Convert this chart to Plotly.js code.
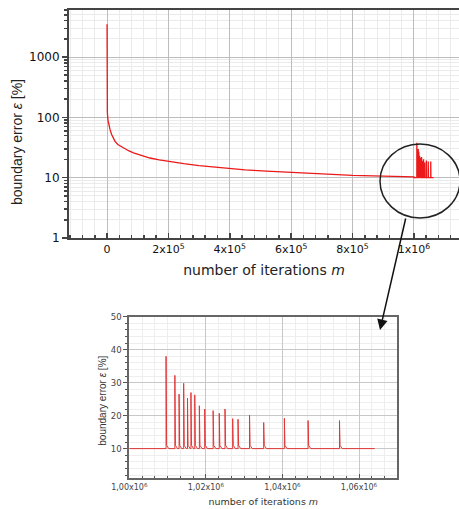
<!DOCTYPE html>
<html><head><meta charset="utf-8">
<script src="https://cdn.plot.ly/plotly-3.0.1.min.js"></script>
<style>html,body{margin:0;padding:0;background:#fff}#chart{width:459px;height:509px}</style>
</head><body><div id="chart"></div>
<script>
// Main convergence curve (top chart)
var mainX = [0, 0, 300, 1000, 3000, 6000, 10000, 15000, 20000, 26000, 35000, 53000, 70000, 86000, 110000, 140000, 170000, 200000, 250000, 300000, 370000, 450000, 520000, 600000, 700000, 800000, 900000, 1000000];
var mainY = [3500, 600, 200, 120, 90, 72, 62, 52, 45, 40, 35.5, 31, 28, 25.7, 23.3, 21.2, 19.8, 18.6, 17.1, 15.9, 14.6, 13.5, 12.8, 12.2, 11.5, 10.9, 10.6, 10.3];
// Spikes after 1e6 iterations (inset detail)
var spikeX = [1009600, 1011900, 1013000, 1014200, 1015200, 1016100, 1017100, 1018300, 1019700, 1021900, 1023500, 1025000, 1027000, 1028400, 1031400, 1035100, 1040500, 1046700, 1054900];
var spikePeak = [38, 32.2, 26.5, 29.8, 25.3, 27, 26.3, 23, 22, 21.5, 20.7, 22, 19.1, 18.9, 20.2, 17.9, 19.2, 18.5, 18.5];
var baseLevel = 10;
var tailStartX = 1000000, tailEndX = 1064100;
// tick labels
var topXTicks = [0, 200000, 400000, 600000, 800000, 1000000];
var topXText = ['0', '2x10<sup>5</sup>', '4x10<sup>5</sup>', '6x10<sup>5</sup>', '8x10<sup>5</sup>', '1x10<sup>6</sup>'];
var topYTicks = [1, 10, 100, 1000];
var topYText = ['1', '10', '100', '1000'];
var inXTicks = [1000000, 1020000, 1040000, 1060000];
var inXText = ['1,00x10<sup>6</sup>', '1,02x10<sup>6</sup>', '1,04x10<sup>6</sup>', '1,06x10<sup>6</sup>'];
var inYTicks = [10, 20, 30, 40, 50];

var sx = [tailStartX], sy = [baseLevel];
for (var i = 0; i < spikeX.length; i++) {
  sx.push(spikeX[i], spikeX[i], spikeX[i] + 150, spikeX[i] + 700);
  sy.push(baseLevel, spikePeak[i], baseLevel + 1, baseLevel);
}
sx.push(tailEndX); sy.push(baseLevel);

var W = 459, H = 509;
function px(x) { return x / W; }
function py(y) { return 1 - y / H; }

var traces = [
  {x: mainX.concat(sx), y: mainY.concat(sy), xaxis: 'x', yaxis: 'y', mode: 'lines',
   line: {color: 'rgb(235,25,25)', width: 1.3}, hoverinfo: 'skip'},
  {x: sx, y: sy, xaxis: 'x2', yaxis: 'y2', mode: 'lines',
   line: {color: 'rgb(225,55,55)', width: 1}, hoverinfo: 'skip'}
];

var layout = {
  width: W, height: H, autosize: false,
  margin: {l: 0, r: 0, t: 0, b: 0},
  paper_bgcolor: '#fff', plot_bgcolor: '#fff',
  showlegend: false,
  font: {family: 'DejaVu Sans', color: '#222'},
  xaxis: {
    domain: [px(69), 1], anchor: 'y', range: [-124000, 1147000],
    tickmode: 'array', tickvals: topXTicks, ticktext: topXText,
    ticks: 'inside', ticklen: 5, tickcolor: '#444', tickwidth: 1.5,
    tickfont: {family: 'DejaVu Sans', size: 11, color: '#111'},
    showline: true, linecolor: '#444', linewidth: 2, mirror: true,
    showgrid: true, gridcolor: '#bdbdbd', gridwidth: 1, zeroline: false,
    minor: {tick0: 0, dtick: 40000, ticks: 'inside', ticklen: 3, tickcolor: '#444', showgrid: true, gridcolor: '#ebebeb'},
    title: {text: 'number of iterations <i>m</i>', font: {family: 'DejaVu Sans', size: 14, color: '#222'}, standoff: 10}
  },
  yaxis: {
    domain: [py(238), py(10)], anchor: 'x', type: 'log', range: [0, 3.78],
    tickmode: 'array', tickvals: topYTicks, ticktext: topYText,
    ticks: 'outside', ticklen: 5, tickcolor: '#444', tickwidth: 1.5,
    tickfont: {family: 'DejaVu Sans', size: 12, color: '#111'},
    showline: true, linecolor: '#444', linewidth: 2, mirror: false,
    showgrid: true, gridcolor: '#bdbdbd', zeroline: false,
    minor: {dtick: 'D1', ticks: 'outside', ticklen: 3, tickcolor: '#444', showgrid: true, gridcolor: '#ebebeb'}
  },
  xaxis2: {
    domain: [px(129.3), px(397.3)], anchor: 'y2', range: [1000000, 1070000],
    tickmode: 'array', tickvals: inXTicks, ticktext: inXText,
    ticks: 'inside', ticklen: 4, tickcolor: '#555',
    tickfont: {family: 'DejaVu Sans', size: 8, color: '#444'},
    showline: true, linecolor: '#666', linewidth: 2, mirror: true,
    showgrid: true, gridcolor: '#c8c8c8', zeroline: false,
    minor: {tick0: 1000000, dtick: 20000 / 6, ticks: 'inside', ticklen: 2.5, tickcolor: '#555', showgrid: true, gridcolor: '#eeeeee'},
    title: {text: 'number of iterations <i>m</i>', font: {family: 'DejaVu Sans', size: 9.5, color: '#333'}, standoff: 7}
  },
  yaxis2: {
    domain: [py(478.3), py(316.7)], anchor: 'x2', range: [1, 50],
    tickmode: 'array', tickvals: inYTicks,
    ticks: 'outside', ticklen: 4, tickcolor: '#555',
    tickfont: {family: 'DejaVu Sans', size: 8.5, color: '#444'},
    showline: true, linecolor: '#666', linewidth: 2, mirror: true,
    showgrid: true, gridcolor: '#c8c8c8', zeroline: false,
    minor: {tick0: 0, dtick: 2, ticks: 'outside', ticklen: 2.5, tickcolor: '#555', showgrid: true, gridcolor: '#eeeeee'}
  },
  shapes: [
    {type: 'circle', xref: 'paper', yref: 'paper',
     x0: px(380), x1: px(460), y0: py(218), y1: py(144),
     line: {color: '#222', width: 1.5}}
  ],
  annotations: [
    {xref: 'paper', yref: 'paper', x: px(17), y: py(142), text: 'boundary error <i>ε</i> [%]',
     textangle: -90, showarrow: false, xanchor: 'center', yanchor: 'middle',
     font: {family: 'Liberation Sans', size: 14, color: '#222'}},
    {xref: 'paper', yref: 'paper', x: px(101.7), y: py(401), text: 'boundary error <i>ε</i> [%]',
     textangle: -90, showarrow: false, xanchor: 'center', yanchor: 'middle',
     font: {family: 'Liberation Sans', size: 10, color: '#333'}},
    {xref: 'paper', yref: 'paper', x: px(380), y: py(330), text: '',
     showarrow: true, axref: 'pixel', ayref: 'pixel', ax: 26, ay: -113,
     arrowhead: 2, arrowsize: 1.4, arrowwidth: 1.5, arrowcolor: '#111'}
  ]
};
Plotly.newPlot('chart', traces, layout, {staticPlot: true, displayModeBar: false});
</script>
</body></html>
